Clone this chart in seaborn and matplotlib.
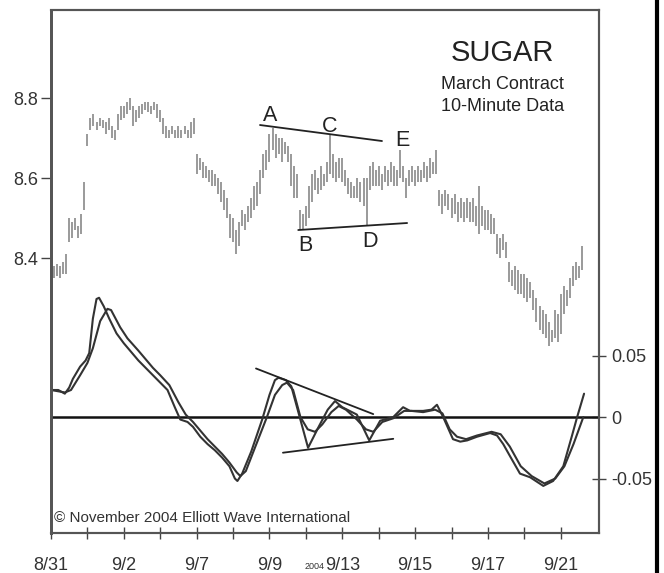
import numpy as np
import matplotlib
matplotlib.use("Agg")
import matplotlib.pyplot as plt
from matplotlib.lines import Line2D
import seaborn as sns

# ---- sessions on the time axis (one tick per trading day) ----
session_labels = ['8/31', '9/1', '9/2', '9/3', '9/7', '9/8', '9/9', '9/10',
                  '9/13', '9/14', '9/15', '9/16', '9/17', '9/20', '9/21']
labelled_sessions = ['8/31', '9/2', '9/7', '9/9', '9/13', '9/15', '9/17', '9/21']
bars_per_session = 12
year_label = '2004'

# ---- 10-minute high/low bars, one list per session ----
bar_high = [
    [8.39, 8.38, 8.385, 8.38, 8.39, 8.41, 8.50, 8.49, 8.50, 8.48, 8.51, 8.59],
    [8.71, 8.75, 8.76, 8.74, 8.75, 8.745, 8.74, 8.75, 8.73, 8.72, 8.76, 8.78],
    [8.78, 8.79, 8.80, 8.78, 8.77, 8.78, 8.785, 8.79, 8.79, 8.78, 8.79, 8.785],
    [8.77, 8.75, 8.73, 8.72, 8.73, 8.72, 8.73, 8.72, 8.73, 8.72, 8.74, 8.75],
    [8.66, 8.65, 8.64, 8.63, 8.62, 8.62, 8.61, 8.60, 8.59, 8.57, 8.55, 8.51],
    [8.50, 8.47, 8.49, 8.52, 8.51, 8.53, 8.55, 8.58, 8.59, 8.62, 8.66, 8.67],
    [8.71, 8.725, 8.71, 8.70, 8.70, 8.69, 8.68, 8.66, 8.63, 8.61, 8.52, 8.51],
    [8.53, 8.58, 8.61, 8.62, 8.60, 8.63, 8.61, 8.64, 8.71, 8.66, 8.64, 8.65],
    [8.65, 8.62, 8.60, 8.59, 8.58, 8.60, 8.59, 8.60, 8.60, 8.63, 8.64, 8.62],
    [8.63, 8.61, 8.63, 8.62, 8.64, 8.63, 8.62, 8.67, 8.63, 8.60, 8.62, 8.63],
    [8.62, 8.63, 8.62, 8.64, 8.63, 8.65, 8.64, 8.67, 8.57, 8.56, 8.57, 8.56],
    [8.55, 8.56, 8.54, 8.55, 8.54, 8.55, 8.54, 8.55, 8.53, 8.58, 8.53, 8.52],
    [8.52, 8.51, 8.50, 8.46, 8.45, 8.46, 8.44, 8.39, 8.37, 8.38, 8.37, 8.36],
    [8.36, 8.35, 8.34, 8.32, 8.30, 8.28, 8.27, 8.26, 8.24, 8.22, 8.27, 8.26],
    [8.31, 8.33, 8.32, 8.35, 8.38, 8.39, 8.38, 8.43],
]
bar_low = [
    [8.36, 8.35, 8.355, 8.35, 8.36, 8.36, 8.44, 8.45, 8.47, 8.45, 8.46, 8.52],
    [8.68, 8.72, 8.73, 8.72, 8.73, 8.725, 8.71, 8.72, 8.70, 8.695, 8.72, 8.745],
    [8.75, 8.76, 8.77, 8.73, 8.74, 8.75, 8.76, 8.77, 8.765, 8.76, 8.77, 8.75],
    [8.74, 8.71, 8.70, 8.70, 8.71, 8.70, 8.70, 8.70, 8.71, 8.70, 8.70, 8.71],
    [8.61, 8.62, 8.60, 8.60, 8.59, 8.58, 8.58, 8.56, 8.54, 8.52, 8.50, 8.45],
    [8.44, 8.41, 8.43, 8.48, 8.47, 8.49, 8.50, 8.52, 8.53, 8.56, 8.60, 8.62],
    [8.64, 8.67, 8.65, 8.66, 8.64, 8.66, 8.64, 8.58, 8.55, 8.55, 8.47, 8.47],
    [8.48, 8.50, 8.54, 8.57, 8.56, 8.57, 8.58, 8.59, 8.61, 8.60, 8.59, 8.60],
    [8.59, 8.58, 8.56, 8.55, 8.55, 8.55, 8.54, 8.53, 8.48, 8.57, 8.58, 8.58],
    [8.58, 8.57, 8.59, 8.58, 8.59, 8.58, 8.58, 8.60, 8.59, 8.55, 8.58, 8.59],
    [8.58, 8.59, 8.59, 8.60, 8.59, 8.60, 8.61, 8.61, 8.53, 8.51, 8.53, 8.52],
    [8.50, 8.51, 8.49, 8.50, 8.49, 8.50, 8.49, 8.49, 8.48, 8.46, 8.48, 8.47],
    [8.47, 8.46, 8.46, 8.41, 8.40, 8.42, 8.40, 8.34, 8.33, 8.32, 8.31, 8.31],
    [8.30, 8.29, 8.30, 8.27, 8.24, 8.22, 8.21, 8.20, 8.18, 8.19, 8.20, 8.19],
    [8.21, 8.26, 8.28, 8.30, 8.33, 8.345, 8.35, 8.37],
]

# ---- oscillator: fast and slow lines (time in sessions) ----
fast_day = [0.00, 0.20, 0.38, 0.50, 0.60, 0.80, 0.95, 1.05, 1.15, 1.25, 1.32,
            1.45, 1.60, 1.80, 2.00, 2.20, 2.40, 2.60, 2.80, 3.00, 3.20, 3.40,
            3.55, 3.75, 3.90, 4.10, 4.30, 4.50, 4.70, 4.90, 5.05, 5.12, 5.25,
            5.50, 5.80, 6.00, 6.15, 6.25, 6.45, 6.60, 7.06, 7.35, 7.60, 7.80,
            8.00, 8.40, 8.74, 9.04, 9.40, 9.67, 9.86, 10.22, 10.45, 10.60,
            10.77, 11.04, 11.24, 11.43, 11.70, 12.06, 12.25, 12.42, 12.61,
            12.88, 13.16, 13.52, 13.79, 14.07, 14.31, 14.45, 14.64]
fast_val = [0.022, 0.022, 0.019, 0.024, 0.031, 0.041, 0.046, 0.052, 0.080,
            0.096, 0.097, 0.090, 0.080, 0.068, 0.060, 0.053, 0.046, 0.040,
            0.034, 0.028, 0.022, 0.008, -0.002, -0.004, -0.008, -0.016,
            -0.022, -0.027, -0.033, -0.040, -0.050, -0.052, -0.046, -0.028,
            -0.002, 0.018, 0.030, 0.032, 0.030, 0.025, -0.025, -0.008, 0.006,
            0.013, 0.008, 0.002, -0.019, -0.003, 0.000, 0.008, 0.005, 0.005,
            0.006, 0.010, 0.000, -0.018, -0.020, -0.019, -0.016, -0.013,
            -0.015, -0.022, -0.032, -0.046, -0.049, -0.056, -0.052, -0.040,
            -0.015, 0.000, 0.019]
slow_day = [0.00, 0.38, 0.55, 0.80, 1.00, 1.15, 1.35, 1.55, 1.65, 1.90, 2.10,
            2.40, 2.60, 2.80, 3.00, 3.25, 3.50, 3.70, 3.90, 4.10, 4.30, 4.50,
            4.70, 4.90, 5.10, 5.20, 5.35, 5.60, 5.93, 6.15, 6.35, 6.48, 6.65,
            6.85, 7.05, 7.25, 7.45, 7.70, 7.90, 8.10, 8.40, 8.65, 8.85, 9.10,
            9.40, 9.70, 9.90, 10.22, 10.55, 10.75, 10.95, 11.15, 11.40, 11.70,
            12.10, 12.35, 12.60, 12.90, 13.20, 13.55, 13.85, 14.10, 14.35,
            14.62]
slow_val = [0.022, 0.020, 0.022, 0.034, 0.044, 0.056, 0.078, 0.088, 0.087,
            0.073, 0.064, 0.054, 0.047, 0.040, 0.034, 0.026, 0.012, 0.002,
            -0.004, -0.011, -0.018, -0.024, -0.030, -0.037, -0.045, -0.048,
            -0.044, -0.025, 0.000, 0.018, 0.026, 0.028, 0.022, 0.000, -0.010,
            -0.012, -0.006, 0.004, 0.009, 0.006, -0.002, -0.010, -0.012,
            -0.004, -0.001, 0.005, 0.005, 0.004, 0.006, 0.003, -0.010, -0.016,
            -0.018, -0.015, -0.012, -0.014, -0.024, -0.040, -0.048, -0.054,
            -0.050, -0.040, -0.022, 0.000]

# ---- triangle boundary lines ----
price_top_line = ([5.74, 9.09], [8.7325, 8.6925])
price_bottom_line = ([6.79, 9.78], [8.470, 8.4875])
osc_top_line = ([5.63, 8.85], [0.0395, 0.0024])
osc_bottom_line = ([6.37, 9.40], [-0.029, -0.0177])

# ---- wave labels on the price triangle ----
wave_names = ['A', 'B', 'C', 'D', 'E']
wave_day = [6.02, 6.98, 7.66, 8.76, 9.64]
wave_price = [8.7575, 8.4325, 8.730, 8.4425, 8.695]

price_ticks = [8.4, 8.6, 8.8]
osc_ticks = [-0.05, 0.0, 0.05]
osc_tick_labels = ['-0.05', '0', '0.05']

# ---------------------------------------------------------------
sns.set_theme(style="white")
plt.rcParams['font.family'] = ['Liberation Sans', 'DejaVu Sans']
ink = '#333333'

fig = plt.figure(figsize=(6.64, 5.73), dpi=100)
ax = fig.add_axes([0.0768, 0.0698, 0.8253, 0.9127])
ax2 = ax.twinx()

# price bars
for s, (hs, ls) in enumerate(zip(bar_high, bar_low)):
    t = s + np.arange(len(hs)) / bars_per_session
    ax.vlines(t, ls, hs, color='#9a9a9a', lw=1.4)

for xs, ys in (price_top_line, price_bottom_line):
    sns.lineplot(x=xs, y=ys, ax=ax, color='#222222', lw=1.3)

for name, d, p in zip(wave_names, wave_day, wave_price):
    ax.text(d, p, name, fontsize=15.5, color='#222222', ha='center', va='center')

# oscillator
ax2.axhline(0, color='#111111', lw=1.8)
sns.lineplot(x=slow_day, y=slow_val, ax=ax2, color=ink, lw=1.5, sort=False)
sns.lineplot(x=fast_day, y=fast_val, ax=ax2, color=ink, lw=1.5, sort=False)
for xs, ys in (osc_top_line, osc_bottom_line):
    sns.lineplot(x=xs, y=ys, ax=ax2, color='#222222', lw=1.3)

# scales
ax.set_xlim(0, 15.05)
ax.set_ylim(7.7125, 9.02)
ax2.set_ylim(-0.0943, 0.331)

ax.set_xticks(range(len(session_labels)))
ax.set_xticklabels([l if l in labelled_sessions else '' for l in session_labels])
ax.set_yticks(price_ticks)
ax.set_yticklabels([f'{v:.1f}' for v in price_ticks])
ax2.set_yticks(osc_ticks)
ax2.set_yticklabels(osc_tick_labels)
ax.set_xlabel('')
ax.set_ylabel('')
ax2.set_ylabel('')

ax.tick_params(axis='x', direction='inout', length=8, width=1.0, color='#444444',
               labelsize=13, labelcolor=ink, pad=13, bottom=True)
ax.tick_params(axis='y', direction='out', length=7, width=1.0, color='#444444',
               labelsize=13, labelcolor=ink, pad=2, left=True)
ax2.tick_params(axis='y', direction='inout', length=10, width=1.0, color='#444444',
                labelsize=13, labelcolor=ink, pad=4, right=True)

for a in (ax, ax2):
    for side, sp in a.spines.items():
        sp.set_color('#555555')
        sp.set_linewidth(1.5)
    a.spines['left'].set_linewidth(2.0)

# titles and credits
fig.text(0.757, 0.908, 'SUGAR', fontsize=21, color='#222222', ha='center', va='center')
fig.text(0.757, 0.853, 'March Contract', fontsize=13, color='#222222', ha='center', va='center')
fig.text(0.757, 0.815, '10-Minute Data', fontsize=13, color='#222222', ha='center', va='center')
fig.text(0.081, 0.096, '\u00a9 November 2004 Elliott Wave International', fontsize=11,
         color='#333333', ha='left', va='center')

# small year note under the date axis
fig.text(0.474, 0.003, year_label, fontsize=6.5, color=ink, ha='center', va='bottom')

# outer rule along the right edge
fig.add_artist(Line2D([0.9895, 0.9895], [0, 1], transform=fig.transFigure,
                      color='black', lw=3))

fig.savefig('out.png', dpi=100)
